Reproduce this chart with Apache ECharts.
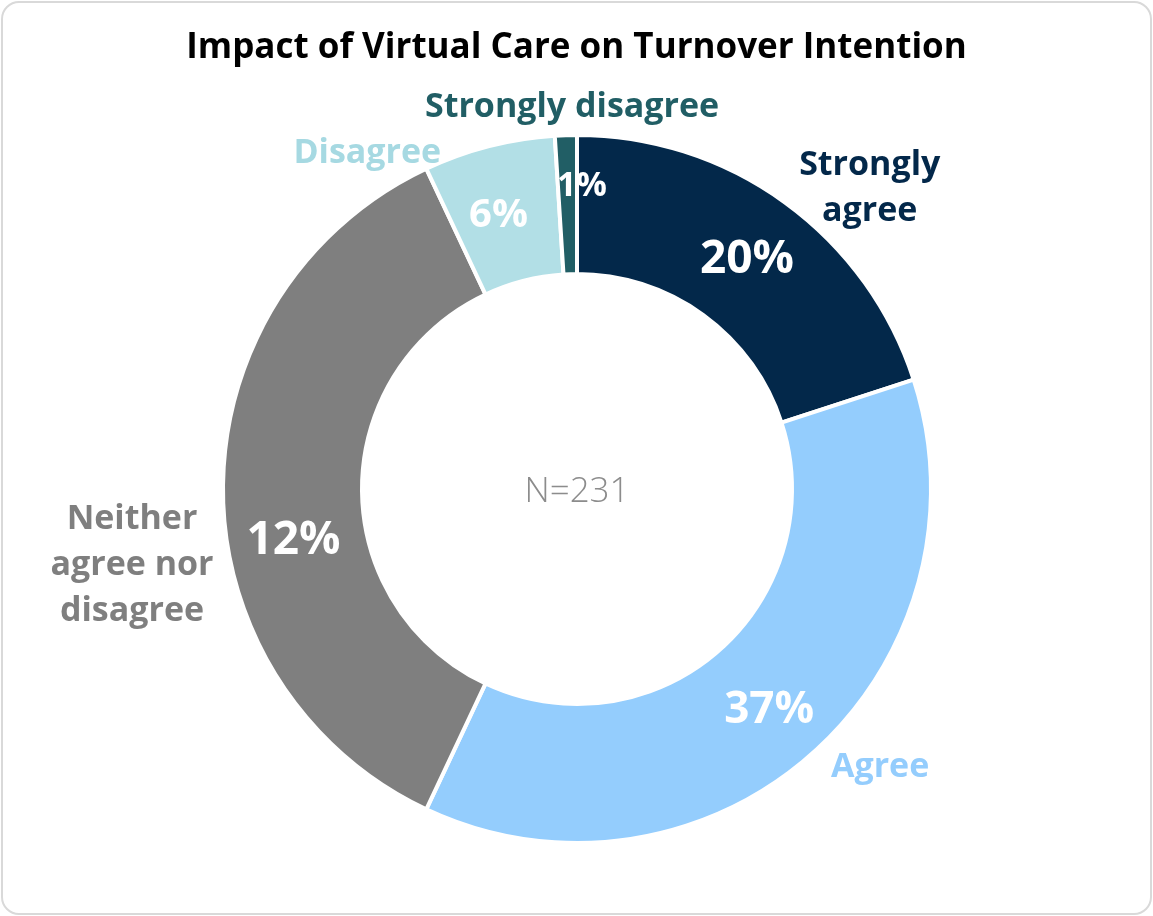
<!DOCTYPE html>
<html>
<head>
<meta charset="utf-8">
<title>Impact of Virtual Care on Turnover Intention</title>
<script src="https://cdn.jsdelivr.net/npm/echarts@6/dist/echarts.min.js"></script>
<style>
  html, body { margin: 0; padding: 0; background: #fff; }
  #chart { width: 1153px; height: 916px; }
  .frame {
    position: absolute; left: 1px; top: 1px;
    width: 1147px; height: 910px;
    border: 2px solid #d9d9d9; border-radius: 18px;
    pointer-events: none;
  }
</style>
</head>
<body>
<div id="chart"></div>
<div class="frame"></div>
<script>
// data (slice sizes) + the percent texts printed on it
var categories = ['Strongly agree', 'Agree', 'Neither agree nor disagree', 'Disagree', 'Strongly disagree']
var shares = [20, 37, 36, 6, 1]
var pctLabels = ['20%', '37%', '12%', '6%', '1%']
var sampleText = 'N=231'

// styles
var sliceColors = ['#03284a', '#94cdfd', '#7f7f7f', '#b2dfe6', '#215e65']
var nameColors = ['#03284a', '#94cdfd', '#7f7f7f', '#a6d9e2', '#215e65']
var nameLines = ['Strongly\nagree', 'Agree', 'Neither\nagree nor\ndisagree', 'Disagree', 'Strongly disagree']
var pctSizes = [46, 44, 46, 40, 34]
var pctOffsets = [[1, 3], [2, 6], [4, 52], [-7, 5], [14, -15]]
var nameOffsets = [[50, 33], [30, -31], [-32, 76], [-107, 64], [8, 31]]
var center = [577, 489]
var font = "'Open Sans', 'Noto Sans', sans-serif"

var chart = echarts.init(document.getElementById('chart'))

var ringData = shares.map(function (v, i) {
  return {
    name: categories[i],
    value: v,
    itemStyle: { color: sliceColors[i] },
    label: {
      formatter: pctLabels[i],
      fontSize: pctSizes[i],
      offset: pctOffsets[i]
    }
  }
})

// transparent outer ring only used to place the category names
var nameData = shares.map(function (v, i) {
  return {
    name: categories[i],
    value: v,
    label: {
      formatter: nameLines[i],
      color: nameColors[i],
      offset: nameOffsets[i]
    }
  }
})

var option = {
  animation: false,
  title: {
    text: 'Impact of Virtual Care on Turnover Intention',
    left: 'center',
    top: 26,
    textStyle: {
      fontFamily: font,
      fontWeight: 'bold',
      fontSize: 35,
      color: '#000'
    }
  },
  graphic: [{
    type: 'text',
    x: center[0],
    y: center[1] + 3,
    style: {
      text: sampleText,
      align: 'center',
      verticalAlign: 'middle',
      fontFamily: font,
      fontWeight: 300,
      fontSize: 35,
      fill: '#8c8c8c'
    }
  }],
  series: [{
    name: 'ring',
    type: 'pie',
    center: center,
    radius: [215, 354],
    startAngle: 90,
    clockwise: true,
    avoidLabelOverlap: false,
    silent: true,
    itemStyle: { borderColor: '#fff', borderWidth: 4 },
    label: {
      show: true,
      position: 'inside',
      fontFamily: font,
      fontWeight: 'bold',
      color: '#fff'
    },
    labelLine: { show: false },
    labelLayout: { hideOverlap: false },
    data: ringData
  }, {
    name: 'names',
    type: 'pie',
    center: center,
    radius: [360, 460],
    startAngle: 90,
    clockwise: true,
    avoidLabelOverlap: false,
    silent: true,
    itemStyle: { color: 'rgba(0,0,0,0)' },
    label: {
      show: true,
      position: 'inside',
      overflow: 'none',
      fontFamily: font,
      fontWeight: 'bold',
      fontSize: 34,
      lineHeight: 46
    },
    labelLine: { show: false },
    labelLayout: { hideOverlap: false },
    data: nameData
  }]
}

chart.setOption(option)
</script>
</body>
</html>
